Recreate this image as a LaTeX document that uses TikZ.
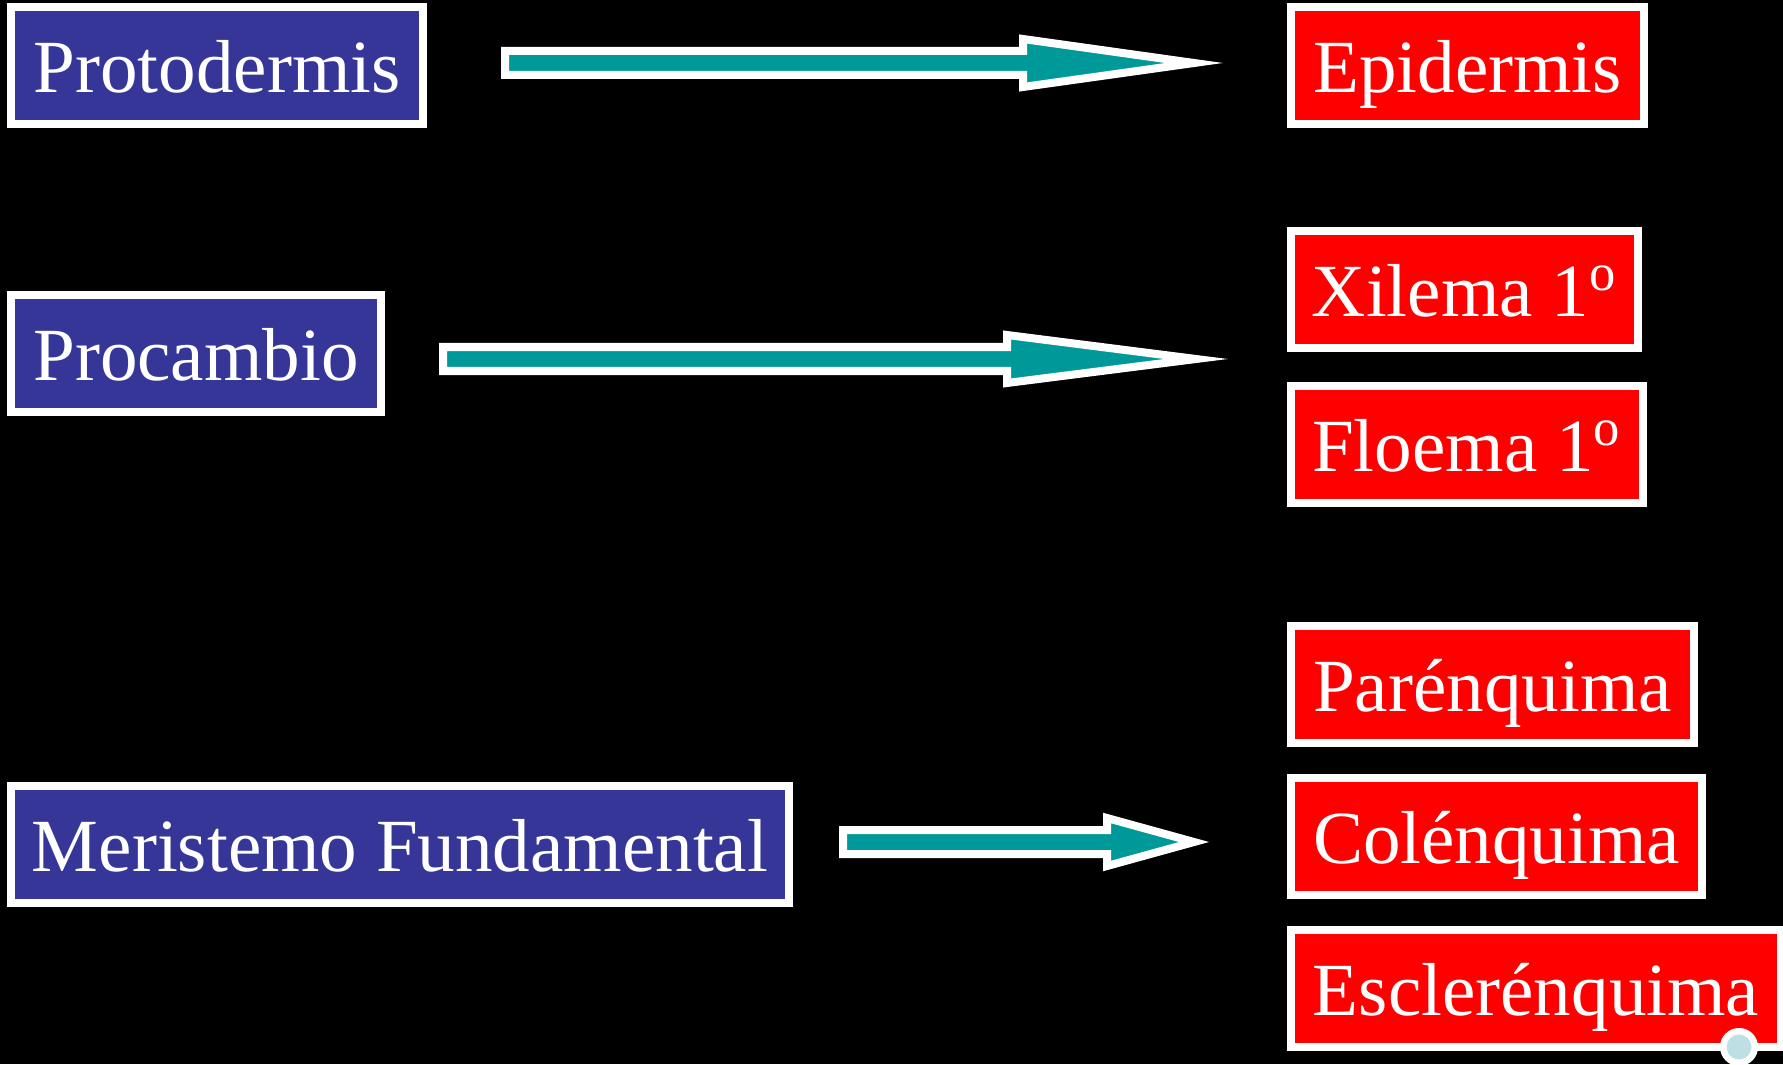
\documentclass[tikz,border=0pt]{standalone}
\usepackage{fontspec}
\setmainfont{Liberation Serif}
\usepackage{tikz}
\usetikzlibrary{calc,backgrounds}
\definecolor{meriblue}{RGB}{54,54,153}
\definecolor{tissuered}{RGB}{255,0,0}
\definecolor{arrowteal}{RGB}{0,153,153}
\definecolor{dotblue}{RGB}{190,224,228}
\newcommand{\meristemcolor}{meriblue}
\newcommand{\tissuecolor}{tissuered}
\newcommand{\arrowcolor}{arrowteal}
\newcommand{\thickness}{0.08cm}
\tikzset{
  box/.style={draw=white, line width=\thickness, text=white, inner sep=0pt,
    text height=20.5pt, text depth=5pt, minimum height=1.17cm,
    font=\fontsize{21.35}{25}\selectfont},
  meristem/.style={box, fill=\meristemcolor},
  tissue/.style={box, fill=\tissuecolor},
  blockarrow/.style={draw=white, fill=\arrowcolor, line width=\thickness, miter limit=20}
}

\begin{document}
\begin{tikzpicture}[x=0.01cm, y=-0.01cm]
\useasboundingbox (0,0) rectangle (1783,1064);
\fill[black] (0,0) rectangle (1783,1064);
%meristems
\node[meristem, minimum width=4.12cm] (proto) at (217, 65.5) {Protodermis};
\node[meristem, minimum width=3.70cm] (procam) at (196, 353.5) {Procambio};
\node[meristem, minimum width=7.78cm] (merist) at (400, 844.5) {Meristemo Fundamental};
%tissues
\node[tissue, minimum width=3.53cm] (epid) at (1467.5, 65.5) {Epidermis};
\node[tissue, minimum width=3.47cm] (xil) at (1464.5, 289.5) {Xilema 1\textsuperscript{o}};
\node[tissue, minimum width=3.52cm] (flo) at (1467, 444.5) {Floema 1\textsuperscript{o}};
\node[tissue, minimum width=4.03cm] (par) at (1492.5, 684.5) {Parénquima};
\node[tissue, minimum width=4.11cm] (col) at (1496.5, 836.5) {Colénquima};
\node[tissue, minimum width=4.90cm] (escl) at (1536, 988.5) {Esclerénquima};
\node[circle, fill=dotblue, draw=white, line width=0.065cm, inner sep=0pt, minimum size=0.315cm] (dot) at (1739, 1047) {};
%arrow ends
\coordinate (s1) at (505, 63);
\coordinate (h1) at (1023, 63);
\coordinate (t1) at (1194, 63);
\coordinate (s2) at (443, 359);
\coordinate (h2) at (1007, 359);
\coordinate (t2) at (1196, 359);
\coordinate (s3) at (843, 842);
\coordinate (h3) at (1107, 842);
\coordinate (t3) at (1194, 842);
%protodermis
\draw[blockarrow] ($(s1)+(0,-12)$) -- ($(h1)+(0,-12)$) -- ($(h1)+(0,-24)$) -- (t1) -- ($(h1)+(0,24)$) -- ($(h1)+(0,12)$) -- ($(s1)+(0,12)$) -- cycle;
%procambio
\draw[blockarrow] ($(s2)+(0,-12)$) -- ($(h2)+(0,-12)$) -- ($(h2)+(0,-24)$) -- (t2) -- ($(h2)+(0,24)$) -- ($(h2)+(0,12)$) -- ($(s2)+(0,12)$) -- cycle;
%meristemo fundamental
\draw[blockarrow] ($(s3)+(0,-12)$) -- ($(h3)+(0,-12)$) -- ($(h3)+(0,-24)$) -- (t3) -- ($(h3)+(0,24)$) -- ($(h3)+(0,12)$) -- ($(s3)+(0,12)$) -- cycle;
\end{tikzpicture}
\end{document}
